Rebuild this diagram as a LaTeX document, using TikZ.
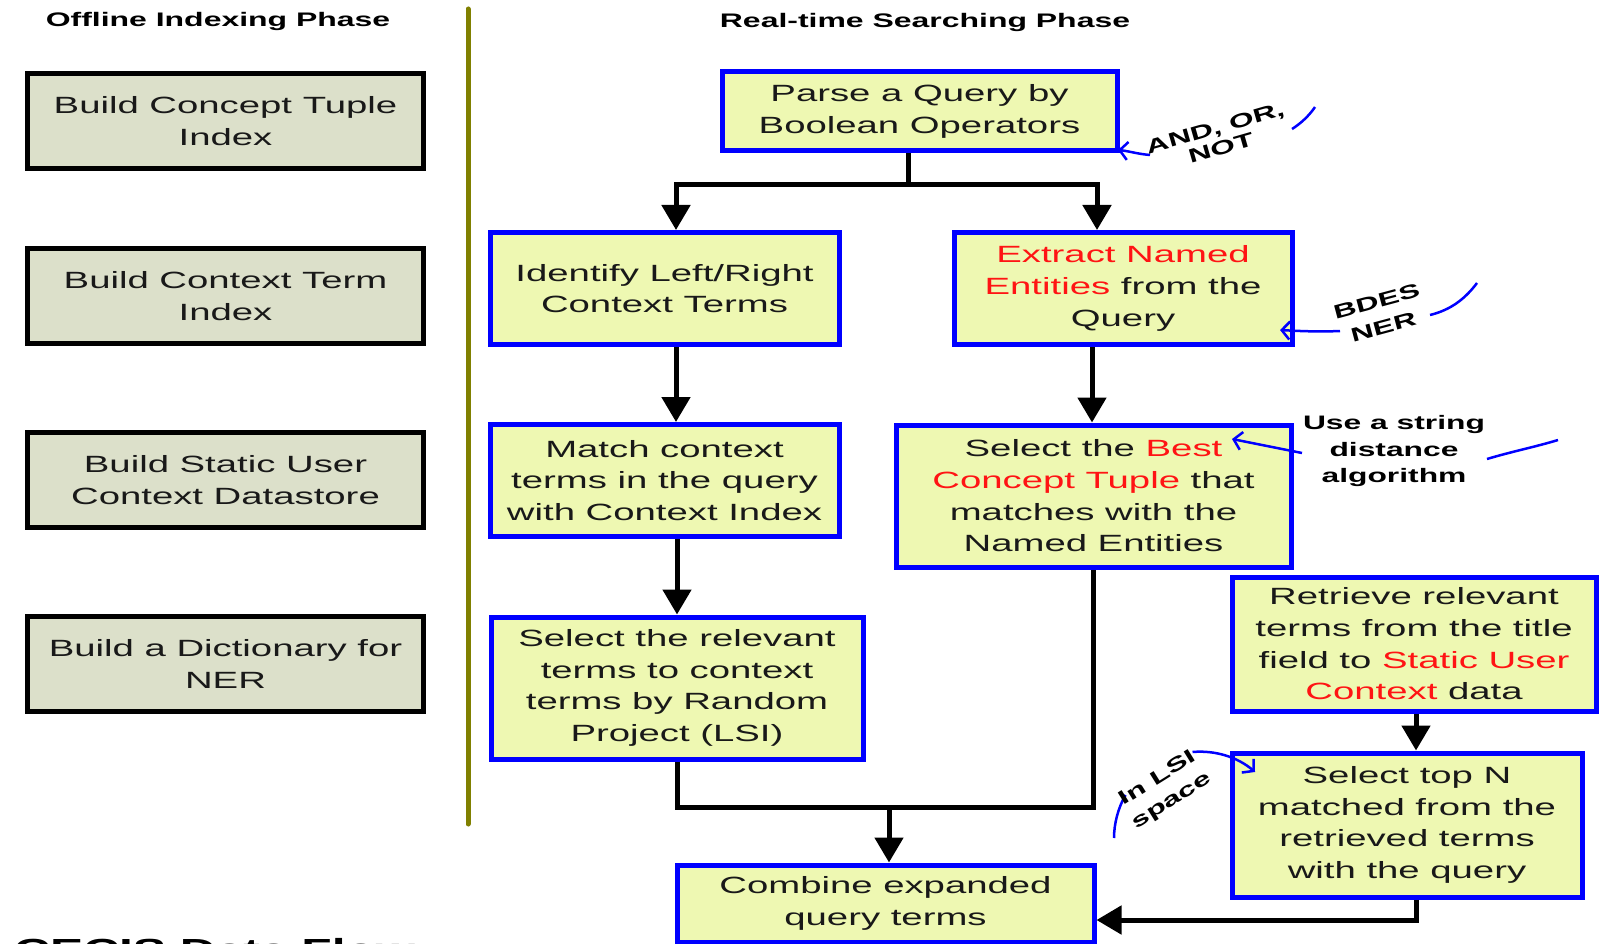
\documentclass[tikz,border=0pt]{standalone}
\usepackage{fontspec}
\setmainfont{Liberation Sans}[FakeStretch=1.63]
\usetikzlibrary{arrows.meta}
\definecolor{bblue}{RGB}{0,0,255}
\definecolor{byel}{RGB}{238,248,178}
\definecolor{lgray}{RGB}{220,224,202}
\definecolor{olivel}{RGB}{128,128,0}
\definecolor{txt}{RGB}{25,25,25}
\definecolor{tred}{RGB}{255,20,20}
\begin{document}
\begin{tikzpicture}[x=1pt,y=-1pt,
 box/.style={draw=bblue,line width=5pt,fill=byel,align=center,inner sep=0pt,text=txt,font=\fontsize{23.5}{31.7}\selectfont},
 lbox/.style={draw=black,line width=5pt,fill=lgray,align=center,inner sep=0pt,text=txt,font=\fontsize{23.5}{31.7}\selectfont,minimum width=396pt,minimum height=95pt},
 conn/.style={line width=5pt},
 arr/.style={line width=5pt,-{Triangle[width=28pt,length=25pt]}},
 ann/.style={draw=bblue,line width=2.5pt},
 annarr/.style={ann,-{Straight Barb[length=8pt,width=18pt]}},
 anntext/.style={font=\bfseries\fontsize{19.5}{26.5}\selectfont,align=center,inner sep=0pt,text=black},
 head/.style={font=\bfseries\fontsize{19.6}{24}\selectfont,inner sep=0pt,anchor=base}
]
\useasboundingbox (0,0) rectangle (1600,944);
\clip (0,0) rectangle (1600,944);
\fill[white] (0,0) rectangle (1600,944);

% headings
\node[head] (h1) at (218,27) {Offline Indexing Phase};
\node[head] (h2) at (925,28) {Real-time Searching Phase};

% separator
\coordinate (s1) at (468,9);
\coordinate (s2) at (468,824);
\draw[olivel,line width=5pt,line cap=round] (s1) -- (s2);

% offline boxes
\node[lbox] (l1) at (225.5,121) {Build Concept Tuple\\Index};
\node[lbox] (l2) at (225.5,296) {Build Context Term\\Index};
\node[lbox] (l3) at (225.5,480) {Build Static User\\Context Datastore};
\node[lbox] (l4) at (225.5,664) {Build a Dictionary for\\NER};

% real-time boxes
\node[box,minimum width=395pt,minimum height=79pt] (parse) at (919.5,111.5) {Parse a Query by\\Boolean Operators};
\node[box,minimum width=349pt,minimum height=112pt] (ident) at (664.5,288.5) {Identify Left/Right\\Context Terms};
\node[box,minimum width=338pt,minimum height=112pt] (extract) at (1123,288.5) {\textcolor{tred}{Extract Named}\\\textcolor{tred}{Entities} from the\\Query};
\node[box,minimum width=349pt,minimum height=112pt] (match) at (664.5,480.5) {Match context\\terms in the query\\with Context Index};
\node[box,minimum width=395pt,minimum height=142pt] (best) at (1093.5,496) {Select the \textcolor{tred}{Best}\\\textcolor{tred}{Concept Tuple} that\\matches with the\\Named Entities};
\node[box,minimum width=372pt,minimum height=142pt] (rel) at (677,688) {Select the relevant\\terms to context\\terms by Random\\Project (LSI)};
\node[box,minimum width=364pt,minimum height=134pt] (retr) at (1414,644) {Retrieve relevant\\terms from the title\\field to \textcolor{tred}{Static User}\\\textcolor{tred}{Context} data};
\node[box,minimum width=350pt,minimum height=144pt] (topn) at (1407,825) {Select top N\\matched from the\\retrieved terms\\with the query};
\node[box,minimum width=417pt,minimum height=77pt] (comb) at (885.5,903.5) {Combine expanded\\query terms};

% connector helpers
\coordinate (j1) at (908,185);
\coordinate (xa) at (676,0);
\coordinate (xb) at (1097,0);
\coordinate (xc) at (1092,0);
\coordinate (j2) at (889,807);
\coordinate (xe) at (1416,0);
\coordinate (j3) at (1416,920);

\draw[conn] (parse.south -| j1) -- (j1);
\draw[arr] (j1) -| (xa |- ident.north);
\draw[arr] (j1) -| (xb |- extract.north);
\draw[arr] (ident.south -| xa) -- (match.north -| xa);
\draw[arr] (match.south -| rel.north) -- (rel.north);
\draw[arr] (extract.south -| xc) -- (best.north -| xc);
\draw[conn] (rel.south) |- (best.south |- j2) -- (best.south);
\draw[arr] (j2) -- (comb.north -| j2);
\draw[arr] (retr.south -| xe) -- (topn.north -| xe);
\draw[arr] (topn.south -| j3) -- (j3) -- (comb.east |- j3);

% annotations
\coordinate (a1s) at (1150,155);
\coordinate (a1t) at (1118,150);
\draw[annarr] (a1s) .. controls (1138,154) and (1128,151) .. (a1t);
\draw[ann] (1315,107) .. controls (1309,116) and (1300,124) .. (1292,129);
\node[anntext,font=\bfseries\fontsize{19.5}{21}\selectfont,rotate=16] (t1) at (1218,138) {AND, OR,\\NOT};

\coordinate (a2s) at (1340,331);
\coordinate (a2t) at (1280,330);
\draw[annarr] (a2s) .. controls (1318,332) and (1298,331) .. (a2t);
\draw[ann] (1477,283) .. controls (1462,303) and (1446,311) .. (1430,315);
\node[anntext,rotate=15] (t2) at (1380,314) {BDES\\NER};

\coordinate (a3s) at (1302,453);
\coordinate (a3t) at (1232,439);
\draw[annarr] (a3s) -- (a3t);
\draw[ann] (1487,459) .. controls (1510,452) and (1535,447) .. (1558,440);
\node[anntext] (t3) at (1394,451) {Use a string\\distance\\algorithm};

\coordinate (a4s) at (1192.5,752);
\coordinate (a4t) at (1255,772);
\draw[ann] (1114,838) .. controls (1114,824) and (1118,808) .. (1125.5,795);
\draw[annarr] (a4s) .. controls (1215,750) and (1237.5,757) .. (a4t);
\node[anntext,rotate=32] (t4) at (1165,790) {In LSI\\space};

% bottom title (cut off)
\node[font=\bfseries\fontsize{30.5}{32}\selectfont,anchor=base west,inner sep=0pt] (title) at (14,960.5) {CECIS Data Flow};
\end{tikzpicture}
\end{document}
